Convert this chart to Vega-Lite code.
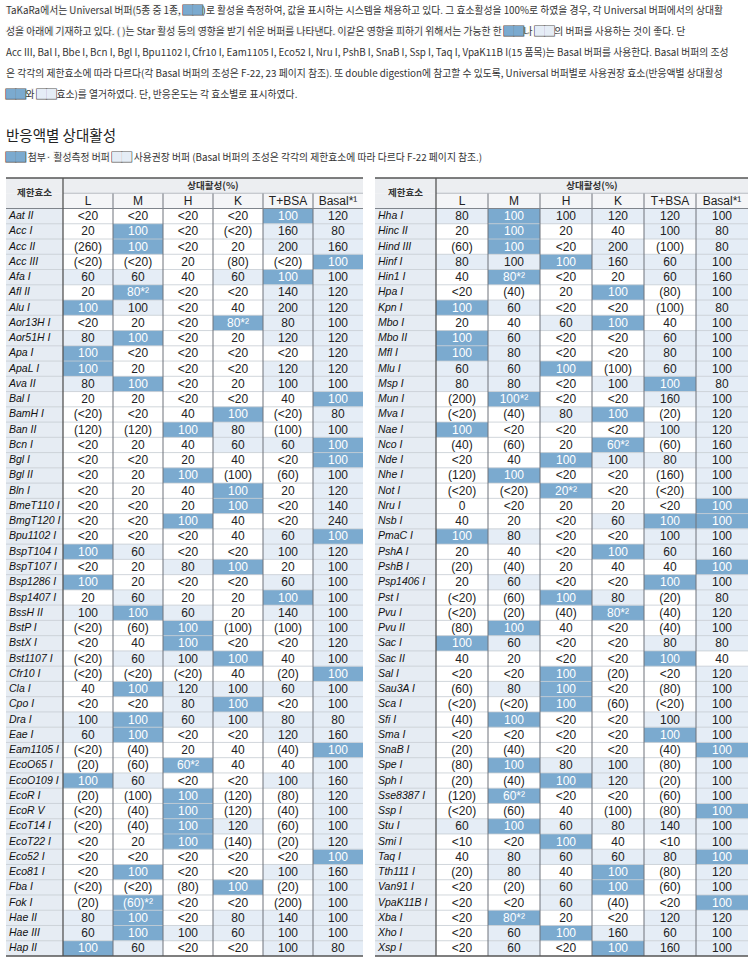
{
"$schema":"https://vega.github.io/schema/vega-lite/v6.json",
"padding":{"left":5,"top":0,"right":5,"bottom":0},
"background":"white",
"config":{"view":{"stroke":null}},
"datasets":{
"ONE":[{}],
"P":[
{"k":"p1","t":"TaKaRa에서는 Universal 버퍼(5종 중 1종, ██)로 활성을 측정하여, 값을 표시하는 시스템을 채용하고 있다. 그 효소활성을 100%로 하였을 경우, 각 Universal 버퍼에서의 상대활","bx":"TaKaRa에서는 Universal 버퍼(5종 중 1종, ██","bp":"TaKaRa에서는 Universal 버퍼(5종 중 1종, "},
{"k":"p2","t":"성을 아래에 기재하고 있다. (   )는 Star 활성 등의 영향을 받기 쉬운 버퍼를 나타낸다. 이같은 영향을 피하기 위해서는 가능한 한 ██나 ██의 버퍼를 사용하는 것이 좋다. 단","bx":"성을 아래에 기재하고 있다. (   )는 Star 활성 등의 영향을 받기 쉬운 버퍼를 나타낸다. 이같은 영향을 피하기 위해서는 가능한 한 ██","bp":"성을 아래에 기재하고 있다. (   )는 Star 활성 등의 영향을 받기 쉬운 버퍼를 나타낸다. 이같은 영향을 피하기 위해서는 가능한 한 ","lx":"성을 아래에 기재하고 있다. (   )는 Star 활성 등의 영향을 받기 쉬운 버퍼를 나타낸다. 이같은 영향을 피하기 위해서는 가능한 한 ██나 ██","lp":"성을 아래에 기재하고 있다. (   )는 Star 활성 등의 영향을 받기 쉬운 버퍼를 나타낸다. 이같은 영향을 피하기 위해서는 가능한 한 ██나 "},
{"k":"p3","t":"Acc III, Bal I, Bbe I, Bcn I, Bgl I, Bpu1102 I, Cfr10 I, Eam1105 I, Eco52 I, Nru I, PshB I, SnaB I, Ssp I, Taq I, VpaK11B I(15 품목)는 Basal 버퍼를 사용한다. Basal 버퍼의 조성"},
{"k":"p4","t":"은 각각의 제한효소에 따라 다르다(각 Basal 버퍼의 조성은 F-22, 23 페이지 참조). 또 double digestion에 참고할 수 있도록, Universal 버퍼별로 사용권장 효소(반응액별 상대활성"},
{"k":"p5","t":"██와 ██효소)를 열거하였다. 단, 반응온도는 각 효소별로 표시하였다.","bx":"██","bp":"","lx":"██와 ██","lp":"██와 "},
{"k":"head","t":"반응액별 상대활성"},
{"k":"leg","t":"██ 첨부· 활성측정 버퍼 ██ 사용권장 버퍼 (Basal 버퍼의 조성은 각각의 제한효소에 따라 다르다 F-22 페이지 참조.)","bx":"██","bp":"","lx":"██ 첨부· 활성측정 버퍼 ██","lp":"██ 첨부· 활성측정 버퍼 "}
],
"HD":[{"c":"L","lab":"L"},{"c":"M","lab":"M"},{"c":"H","lab":"H"},{"c":"K","lab":"K"},{"c":"T","lab":"T+BSA"},{"c":"B","lab":"Basal*¹"}],
"A":[
{"e":"Aat II","L":"<20","M":"<20","H":"<20","K":"<20","T":"100","B":"120","m":["T"],"r":["B"]},
{"e":"Acc I","L":"20","M":"100","H":"<20","K":"(<20)","T":"160","B":"80","m":["M"],"r":["T","B"]},
{"e":"Acc II","L":"(260)","M":"100","H":"<20","K":"20","T":"200","B":"160","m":["M"],"r":["T","B"]},
{"e":"Acc III","L":"(<20)","M":"(<20)","H":"20","K":"(80)","T":"(<20)","B":"100","m":["B"],"r":[]},
{"e":"Afa I","L":"60","M":"60","H":"40","K":"60","T":"100","B":"100","m":["T"],"r":["L","M","K","B"]},
{"e":"Afl II","L":"20","M":"80*²","H":"<20","K":"<20","T":"140","B":"120","m":["M"],"r":["T","B"]},
{"e":"Alu I","L":"100","M":"100","H":"<20","K":"40","T":"200","B":"120","m":["L"],"r":["M","T","B"]},
{"e":"Aor13H I","L":"<20","M":"20","H":"<20","K":"80*²","T":"80","B":"100","m":["K"],"r":["T","B"]},
{"e":"Aor51H I","L":"80","M":"100","H":"<20","K":"20","T":"120","B":"120","m":["M"],"r":["L","T","B"]},
{"e":"Apa I","L":"100","M":"<20","H":"<20","K":"<20","T":"<20","B":"120","m":["L"],"r":["B"]},
{"e":"ApaL I","L":"100","M":"20","H":"<20","K":"<20","T":"120","B":"120","m":["L"],"r":["T","B"]},
{"e":"Ava II","L":"80","M":"100","H":"<20","K":"20","T":"100","B":"100","m":["M"],"r":["L","T","B"]},
{"e":"Bal I","L":"20","M":"20","H":"<20","K":"<20","T":"40","B":"100","m":["B"],"r":[]},
{"e":"BamH I","L":"(<20)","M":"<20","H":"40","K":"100","T":"(<20)","B":"80","m":["K"],"r":["B"]},
{"e":"Ban II","L":"(120)","M":"(120)","H":"100","K":"80","T":"(100)","B":"100","m":["H"],"r":["K","B"]},
{"e":"Bcn I","L":"<20","M":"20","H":"40","K":"60","T":"60","B":"100","m":["B"],"r":["K","T"]},
{"e":"Bgl I","L":"<20","M":"<20","H":"20","K":"40","T":"<20","B":"100","m":["B"],"r":[]},
{"e":"Bgl II","L":"<20","M":"20","H":"100","K":"(100)","T":"(60)","B":"100","m":["H"],"r":["B"]},
{"e":"Bln I","L":"<20","M":"20","H":"40","K":"100","T":"20","B":"120","m":["K"],"r":["B"]},
{"e":"BmeT110 I","L":"<20","M":"<20","H":"20","K":"100","T":"<20","B":"140","m":["K"],"r":["B"]},
{"e":"BmgT120 I","L":"<20","M":"<20","H":"100","K":"40","T":"<20","B":"240","m":["H"],"r":["B"]},
{"e":"Bpu1102 I","L":"<20","M":"<20","H":"<20","K":"40","T":"60","B":"100","m":["B"],"r":["T"]},
{"e":"BspT104 I","L":"100","M":"60","H":"<20","K":"<20","T":"100","B":"120","m":["L"],"r":["M","T","B"]},
{"e":"BspT107 I","L":"<20","M":"20","H":"80","K":"100","T":"20","B":"100","m":["K"],"r":["H","B"]},
{"e":"Bsp1286 I","L":"100","M":"20","H":"<20","K":"<20","T":"60","B":"100","m":["L"],"r":["T","B"]},
{"e":"Bsp1407 I","L":"20","M":"60","H":"20","K":"20","T":"100","B":"100","m":["T"],"r":["M","B"]},
{"e":"BssH II","L":"100","M":"100","H":"60","K":"20","T":"140","B":"100","m":["M"],"r":["L","H","T","B"]},
{"e":"BstP I","L":"(<20)","M":"(60)","H":"100","K":"(100)","T":"(100)","B":"100","m":["H"],"r":["B"]},
{"e":"BstX I","L":"<20","M":"40","H":"100","K":"<20","T":"<20","B":"120","m":["H"],"r":["B"]},
{"e":"Bst1107 I","L":"(<20)","M":"60","H":"100","K":"100","T":"40","B":"100","m":["K"],"r":["M","H","B"]},
{"e":"Cfr10 I","L":"(<20)","M":"(<20)","H":"(<20)","K":"40","T":"(20)","B":"100","m":["B"],"r":[]},
{"e":"Cla I","L":"40","M":"100","H":"120","K":"100","T":"60","B":"100","m":["M"],"r":["H","K","T","B"]},
{"e":"Cpo I","L":"<20","M":"<20","H":"80","K":"100","T":"<20","B":"100","m":["K"],"r":["H","B"]},
{"e":"Dra I","L":"100","M":"100","H":"60","K":"100","T":"80","B":"80","m":["M"],"r":["L","H","K","T","B"]},
{"e":"Eae I","L":"60","M":"100","H":"<20","K":"<20","T":"120","B":"160","m":["M"],"r":["L","T","B"]},
{"e":"Eam1105 I","L":"(<20)","M":"(40)","H":"20","K":"40","T":"(40)","B":"100","m":["B"],"r":[]},
{"e":"EcoO65 I","L":"(20)","M":"(60)","H":"60*²","K":"40","T":"40","B":"100","m":["H"],"r":["B"]},
{"e":"EcoO109 I","L":"100","M":"60","H":"<20","K":"<20","T":"100","B":"160","m":["L"],"r":["M","T","B"]},
{"e":"EcoR I","L":"(20)","M":"(100)","H":"100","K":"(120)","T":"(80)","B":"120","m":["H"],"r":["B"]},
{"e":"EcoR V","L":"(<20)","M":"(40)","H":"100","K":"(120)","T":"(40)","B":"100","m":["H"],"r":["B"]},
{"e":"EcoT14 I","L":"(<20)","M":"(40)","H":"100","K":"120","T":"(60)","B":"100","m":["H"],"r":["K","B"]},
{"e":"EcoT22 I","L":"<20","M":"20","H":"100","K":"(140)","T":"(20)","B":"120","m":["H"],"r":["B"]},
{"e":"Eco52 I","L":"<20","M":"<20","H":"<20","K":"<20","T":"<20","B":"100","m":["B"],"r":[]},
{"e":"Eco81 I","L":"<20","M":"100","H":"<20","K":"<20","T":"100","B":"160","m":["M"],"r":["T","B"]},
{"e":"Fba I","L":"(<20)","M":"(<20)","H":"(80)","K":"100","T":"(20)","B":"100","m":["K"],"r":["B"]},
{"e":"Fok I","L":"(20)","M":"(60)*²","H":"<20","K":"<20","T":"(200)","B":"100","m":["M"],"r":["B"]},
{"e":"Hae II","L":"80","M":"100","H":"<20","K":"80","T":"140","B":"100","m":["M"],"r":["L","K","T","B"]},
{"e":"Hae III","L":"60","M":"100","H":"100","K":"60","T":"100","B":"100","m":["M"],"r":["L","H","K","T","B"]},
{"e":"Hap II","L":"100","M":"60","H":"<20","K":"<20","T":"100","B":"80","m":["L"],"r":["M","T","B"]}
],
"B":[
{"e":"Hha I","L":"80","M":"100","H":"100","K":"120","T":"120","B":"100","m":["M"],"r":["L","H","K","T","B"]},
{"e":"Hinc II","L":"20","M":"100","H":"20","K":"40","T":"100","B":"80","m":["M"],"r":["T","B"]},
{"e":"Hind III","L":"(60)","M":"100","H":"<20","K":"200","T":"(100)","B":"80","m":["M"],"r":["K","B"]},
{"e":"Hinf I","L":"80","M":"100","H":"100","K":"160","T":"60","B":"100","m":["H"],"r":["L","M","K","T","B"]},
{"e":"Hin1 I","L":"40","M":"80*²","H":"<20","K":"20","T":"60","B":"160","m":["M"],"r":["T","B"]},
{"e":"Hpa I","L":"<20","M":"(40)","H":"20","K":"100","T":"(80)","B":"100","m":["K"],"r":["B"]},
{"e":"Kpn I","L":"100","M":"60","H":"<20","K":"<20","T":"(100)","B":"80","m":["L"],"r":["M","B"]},
{"e":"Mbo I","L":"20","M":"40","H":"60","K":"100","T":"40","B":"100","m":["K"],"r":["H","B"]},
{"e":"Mbo II","L":"100","M":"60","H":"<20","K":"<20","T":"60","B":"100","m":["L"],"r":["M","T","B"]},
{"e":"Mfl I","L":"100","M":"80","H":"<20","K":"<20","T":"80","B":"100","m":["L"],"r":["M","T","B"]},
{"e":"Mlu I","L":"60","M":"60","H":"100","K":"(100)","T":"60","B":"100","m":["H"],"r":["L","M","T","B"]},
{"e":"Msp I","L":"80","M":"80","H":"<20","K":"100","T":"100","B":"80","m":["T"],"r":["L","M","K","B"]},
{"e":"Mun I","L":"(200)","M":"100*²","H":"<20","K":"<20","T":"160","B":"100","m":["M"],"r":["T","B"]},
{"e":"Mva I","L":"(<20)","M":"(40)","H":"80","K":"100","T":"(20)","B":"120","m":["K"],"r":["H","B"]},
{"e":"Nae I","L":"100","M":"<20","H":"<20","K":"<20","T":"100","B":"120","m":["L"],"r":["T","B"]},
{"e":"Nco I","L":"(40)","M":"(60)","H":"20","K":"60*²","T":"(60)","B":"160","m":["K"],"r":["B"]},
{"e":"Nde I","L":"<20","M":"40","H":"100","K":"100","T":"80","B":"100","m":["H"],"r":["K","T","B"]},
{"e":"Nhe I","L":"(120)","M":"100","H":"<20","K":"<20","T":"(160)","B":"100","m":["M"],"r":["B"]},
{"e":"Not I","L":"(<20)","M":"(<20)","H":"20*²","K":"<20","T":"(<20)","B":"100","m":["H"],"r":["B"]},
{"e":"Nru I","L":"0","M":"<20","H":"20","K":"20","T":"<20","B":"100","m":["B"],"r":[]},
{"e":"Nsb I","L":"40","M":"20","H":"<20","K":"60","T":"100","B":"100","m":["T","B"],"r":["K"]},
{"e":"PmaC I","L":"100","M":"80","H":"<20","K":"<20","T":"100","B":"100","m":["L"],"r":["M","T","B"]},
{"e":"PshA I","L":"20","M":"40","H":"<20","K":"100","T":"60","B":"160","m":["K"],"r":["T","B"]},
{"e":"PshB I","L":"(20)","M":"(40)","H":"20","K":"40","T":"40","B":"100","m":["B"],"r":[]},
{"e":"Psp1406 I","L":"20","M":"60","H":"<20","K":"<20","T":"100","B":"100","m":["T"],"r":["M","B"]},
{"e":"Pst I","L":"(<20)","M":"(60)","H":"100","K":"80","T":"(20)","B":"80","m":["H"],"r":["K","B"]},
{"e":"Pvu I","L":"(<20)","M":"(20)","H":"(40)","K":"80*²","T":"(40)","B":"120","m":["K"],"r":["B"]},
{"e":"Pvu II","L":"(80)","M":"100","H":"40","K":"<20","T":"(40)","B":"100","m":["M"],"r":["B"]},
{"e":"Sac I","L":"100","M":"60","H":"<20","K":"<20","T":"80","B":"80","m":["L"],"r":["M","T","B"]},
{"e":"Sac II","L":"40","M":"20","H":"<20","K":"<20","T":"100","B":"40","m":["T"],"r":[]},
{"e":"Sal I","L":"<20","M":"<20","H":"100","K":"(20)","T":"<20","B":"120","m":["H"],"r":["B"]},
{"e":"Sau3A I","L":"(60)","M":"80","H":"100","K":"<20","T":"(80)","B":"100","m":["H"],"r":["M","B"]},
{"e":"Sca I","L":"(<20)","M":"(<20)","H":"100","K":"(60)","T":"(<20)","B":"100","m":["H"],"r":["B"]},
{"e":"Sfi I","L":"(40)","M":"100","H":"<20","K":"<20","T":"100","B":"100","m":["M"],"r":["T","B"]},
{"e":"Sma I","L":"<20","M":"<20","H":"<20","K":"<20","T":"100","B":"100","m":["T"],"r":["B"]},
{"e":"SnaB I","L":"(20)","M":"(40)","H":"<20","K":"<20","T":"(40)","B":"100","m":["B"],"r":[]},
{"e":"Spe I","L":"(80)","M":"100","H":"80","K":"100","T":"(80)","B":"100","m":["M"],"r":["H","K","B"]},
{"e":"Sph I","L":"(20)","M":"(40)","H":"100","K":"120","T":"(20)","B":"100","m":["H"],"r":["K","B"]},
{"e":"Sse8387 I","L":"(120)","M":"60*²","H":"<20","K":"<20","T":"(60)","B":"100","m":["M"],"r":["B"]},
{"e":"Ssp I","L":"(<20)","M":"(60)","H":"40","K":"(100)","T":"(80)","B":"100","m":["B"],"r":[]},
{"e":"Stu I","L":"60","M":"100","H":"60","K":"80","T":"140","B":"100","m":["M"],"r":["L","H","K","T","B"]},
{"e":"Smi I","L":"<10","M":"<20","H":"100","K":"40","T":"<10","B":"100","m":["H"],"r":["B"]},
{"e":"Taq I","L":"40","M":"80","H":"60","K":"60","T":"80","B":"100","m":["B"],"r":["M","H","K","T"]},
{"e":"Tth111 I","L":"(20)","M":"80","H":"40","K":"100","T":"(80)","B":"120","m":["K"],"r":["M","B"]},
{"e":"Van91 I","L":"<20","M":"(20)","H":"60","K":"100","T":"(60)","B":"100","m":["K"],"r":["H","B"]},
{"e":"VpaK11B I","L":"<20","M":"<20","H":"60","K":"(40)","T":"<20","B":"100","m":["B"],"r":["H"]},
{"e":"Xba I","L":"<20","M":"80*²","H":"20","K":"<20","T":"120","B":"120","m":["M"],"r":["T","B"]},
{"e":"Xho I","L":"<20","M":"60","H":"100","K":"160","T":"60","B":"100","m":["H"],"r":["M","K","T","B"]},
{"e":"Xsp I","L":"<20","M":"60","H":"<20","K":"100","T":"160","B":"100","m":["K"],"r":["M","T","B"]}
]
},
"vconcat":[
{
"width":740,"height":168,
"data":{"name":"P"},
"encoding":{
"x":{"datum":"left","type":"nominal","scale":{"type":"point","domain":["left","right"],"padding":0},"axis":null},
"y":{"field":"k","type":"nominal","scale":{"domain":["p1","p2","p3","p4","p5","gap","head","leg"],"paddingInner":0,"paddingOuter":0},"axis":null}
},
"layer":[
{"transform":[{"filter":"datum.k !== 'head'"}],"mark":{"type":"text","align":"left","baseline":"middle","font":"Noto Sans CJK KR","fontSize":9.8,"fill":"#333333"},"encoding":{"text":{"field":"t"}}},
{"transform":[{"filter":"isString(datum.lx)"}],"mark":{"type":"text","align":"left","baseline":"middle","font":"Noto Sans CJK KR","fontSize":9.8,"fill":"#555555","stroke":"#555555","strokeWidth":1.2},"encoding":{"text":{"field":"lx"}}},
{"transform":[{"filter":"isString(datum.lx)"}],"mark":{"type":"text","align":"left","baseline":"middle","font":"Noto Sans CJK KR","fontSize":9.8,"fill":"#E5EDF6"},"encoding":{"text":{"field":"lx"}}},
{"transform":[{"filter":"isString(datum.lp)"}],"mark":{"type":"text","align":"left","baseline":"middle","font":"Noto Sans CJK KR","fontSize":9.8,"fill":"#ffffff","stroke":"#ffffff","strokeWidth":2},"encoding":{"text":{"field":"lp"}}},
{"transform":[{"filter":"isString(datum.lp)"}],"mark":{"type":"text","align":"left","baseline":"middle","font":"Noto Sans CJK KR","fontSize":9.8,"fill":"#333333"},"encoding":{"text":{"field":"lp"}}},
{"transform":[{"filter":"isString(datum.bx)"}],"mark":{"type":"text","align":"left","baseline":"middle","font":"Noto Sans CJK KR","fontSize":9.8,"fill":"#555555","stroke":"#555555","strokeWidth":1.2},"encoding":{"text":{"field":"bx"}}},
{"transform":[{"filter":"isString(datum.bx)"}],"mark":{"type":"text","align":"left","baseline":"middle","font":"Noto Sans CJK KR","fontSize":9.8,"fill":"#7BAACF"},"encoding":{"text":{"field":"bx"}}},
{"transform":[{"filter":"isString(datum.bp)"}],"mark":{"type":"text","align":"left","baseline":"middle","font":"Noto Sans CJK KR","fontSize":9.8,"fill":"#ffffff","stroke":"#ffffff","strokeWidth":2},"encoding":{"text":{"field":"bp"}}},
{"transform":[{"filter":"isString(datum.bp)"}],"mark":{"type":"text","align":"left","baseline":"middle","font":"Noto Sans CJK KR","fontSize":9.8,"fill":"#333333"},"encoding":{"text":{"field":"bp"}}},
{"transform":[{"filter":"datum.k === 'head'"}],"mark":{"type":"text","align":"left","baseline":"middle","font":"Noto Sans CJK KR","fontSize":14.5,"fill":"#222222"},"encoding":{"text":{"field":"t"}}}
]
},
{
"hconcat":[
{"hconcat":[
{"width":57,"height":778,"layer":[
{"data":{"name":"A"},"mark":{"type":"rect","color":"#E6ECF3"},"encoding":{"y":{"field":"e","type":"nominal","scale":{"domain":["h1","h2","Aat II","Acc I","Acc II","Acc III","Afa I","Afl II","Alu I","Aor13H I","Aor51H I","Apa I","ApaL I","Ava II","Bal I","BamH I","Ban II","Bcn I","Bgl I","Bgl II","Bln I","BmeT110 I","BmgT120 I","Bpu1102 I","BspT104 I","BspT107 I","Bsp1286 I","Bsp1407 I","BssH II","BstP I","BstX I","Bst1107 I","Cfr10 I","Cla I","Cpo I","Dra I","Eae I","Eam1105 I","EcoO65 I","EcoO109 I","EcoR I","EcoR V","EcoT14 I","EcoT22 I","Eco52 I","Eco81 I","Fba I","Fok I","Hae II","Hae III","Hap II"],"paddingInner":0,"paddingOuter":0},"axis":null}}},
{"data":{"name":"ONE"},"mark":{"type":"rect","color":"#ECEEF1"},"encoding":{"y":{"datum":"h1","type":"nominal","axis":null}}},
{"data":{"name":"ONE"},"mark":{"type":"rect","color":"#ECEEF1"},"encoding":{"y":{"datum":"h2","type":"nominal","axis":null}}},
{"data":{"name":"A"},"mark":{"type":"rule","color":"#C5CBD2","strokeWidth":0.8},"encoding":{"y":{"field":"e","type":"nominal","bandPosition":0,"axis":null}}},
{"data":{"name":"ONE"},"mark":{"type":"rule","color":"#7F848B","strokeWidth":1},"encoding":{"y":{"datum":"h2","type":"nominal","bandPosition":1,"axis":null}}},
{"data":{"name":"ONE"},"mark":{"type":"rule","color":"#555555","strokeWidth":1.5},"encoding":{"y":{"datum":"h1","type":"nominal","bandPosition":0,"axis":null}}},
{"data":{"name":"ONE"},"mark":{"type":"rule","color":"#555555","strokeWidth":1.5},"encoding":{"y":{"datum":"Hap II","type":"nominal","bandPosition":1,"axis":null}}},
{"data":{"name":"ONE"},"mark":{"type":"text","font":"Noto Sans CJK KR","fontSize":9.5,"fontWeight":"bold","fill":"#333333"},"encoding":{"y":{"datum":"h1","type":"nominal","bandPosition":1,"axis":null},"text":{"value":"제한효소"}}},
{"data":{"name":"A"},"mark":{"type":"text","font":"Liberation Sans","fontSize":10.5,"fontStyle":"italic","align":"left","dx":3,"fill":"#111111"},"encoding":{"x":{"datum":"left","type":"nominal","scale":{"type":"point","domain":["left","right"],"padding":0},"axis":null},"y":{"field":"e","type":"nominal","axis":null},"text":{"field":"e"}}}
]},
{"width":300,"height":778,"layer":[
{"data":{"name":"A"},"transform":[{"flatten":["m"]}],"mark":{"type":"rect","color":"#7BAACF"},"encoding":{"x":{"field":"m","type":"nominal","scale":{"domain":["L","M","H","K","T","B"],"paddingInner":0,"paddingOuter":0},"axis":null},"y":{"field":"e","type":"nominal","scale":{"domain":["h1","h2","Aat II","Acc I","Acc II","Acc III","Afa I","Afl II","Alu I","Aor13H I","Aor51H I","Apa I","ApaL I","Ava II","Bal I","BamH I","Ban II","Bcn I","Bgl I","Bgl II","Bln I","BmeT110 I","BmgT120 I","Bpu1102 I","BspT104 I","BspT107 I","Bsp1286 I","Bsp1407 I","BssH II","BstP I","BstX I","Bst1107 I","Cfr10 I","Cla I","Cpo I","Dra I","Eae I","Eam1105 I","EcoO65 I","EcoO109 I","EcoR I","EcoR V","EcoT14 I","EcoT22 I","Eco52 I","Eco81 I","Fba I","Fok I","Hae II","Hae III","Hap II"],"paddingInner":0,"paddingOuter":0},"axis":null}}},
{"data":{"name":"A"},"transform":[{"flatten":["r"]}],"mark":{"type":"rect","color":"#E5EDF6"},"encoding":{"x":{"field":"r","type":"nominal","axis":null},"y":{"field":"e","type":"nominal","axis":null}}},
{"data":{"name":"HD"},"mark":{"type":"rect","color":"#F4F5F7"},"encoding":{"x":{"field":"c","type":"nominal","axis":null},"y":{"datum":"h2","type":"nominal","axis":null}}},
{"data":{"name":"A"},"mark":{"type":"rule","color":"#C5CBD2","strokeWidth":0.8},"encoding":{"y":{"field":"e","type":"nominal","bandPosition":0,"axis":null}}},
{"data":{"name":"HD"},"transform":[{"filter":{"field":"c","oneOf":["M","H","K","T","B"]}}],"mark":{"type":"rule","color":"#6E737A","strokeWidth":1},"encoding":{"x":{"field":"c","type":"nominal","bandPosition":0,"axis":null}}},
{"data":{"name":"HD"},"mark":{"type":"rect","color":"#ECEEF1"},"encoding":{"x":{"field":"c","type":"nominal","axis":null},"y":{"datum":"h1","type":"nominal","axis":null}}},
{"data":{"name":"ONE"},"mark":{"type":"rule","color":"#A9AEB5","strokeWidth":0.8},"encoding":{"y":{"datum":"h2","type":"nominal","bandPosition":0,"axis":null}}},
{"data":{"name":"ONE"},"mark":{"type":"rule","color":"#7F848B","strokeWidth":1},"encoding":{"y":{"datum":"h2","type":"nominal","bandPosition":1,"axis":null}}},
{"data":{"name":"ONE"},"mark":{"type":"rule","color":"#555555","strokeWidth":1.3},"encoding":{"x":{"datum":"L","type":"nominal","bandPosition":0,"axis":null}}},
{"data":{"name":"ONE"},"mark":{"type":"rule","color":"#555555","strokeWidth":1.5},"encoding":{"y":{"datum":"h1","type":"nominal","bandPosition":0,"axis":null}}},
{"data":{"name":"ONE"},"mark":{"type":"rule","color":"#555555","strokeWidth":1.5},"encoding":{"y":{"datum":"Hap II","type":"nominal","bandPosition":1,"axis":null}}},
{"data":{"name":"ONE"},"mark":{"type":"text","font":"Noto Sans CJK KR","fontSize":9.5,"fontWeight":"bold","fill":"#333333"},"encoding":{"x":{"datum":"K","type":"nominal","bandPosition":0,"axis":null},"y":{"datum":"h1","type":"nominal","axis":null},"text":{"value":"상대활성(%)"}}},
{"data":{"name":"HD"},"mark":{"type":"text","font":"Liberation Sans","fontSize":12,"fill":"#222222"},"encoding":{"x":{"field":"c","type":"nominal","axis":null},"y":{"datum":"h2","type":"nominal","axis":null},"text":{"field":"lab"}}},
{"data":{"name":"A"},"transform":[{"fold":["L","M","H","K","T","B"],"as":["c","v"]}],"mark":{"type":"text","font":"Liberation Sans","fontSize":12},"encoding":{"x":{"field":"c","type":"nominal","axis":null},"y":{"field":"e","type":"nominal","axis":null},"text":{"field":"v"},"color":{"condition":{"test":"indexof(datum.m, datum.c) >= 0","value":"#ffffff"},"value":"#222222"}}}
]}
],"spacing":0,"bounds":"flush"},
{"hconcat":[
{"width":61,"height":778,"layer":[
{"data":{"name":"B"},"mark":{"type":"rect","color":"#E6ECF3"},"encoding":{"y":{"field":"e","type":"nominal","scale":{"domain":["h1","h2","Hha I","Hinc II","Hind III","Hinf I","Hin1 I","Hpa I","Kpn I","Mbo I","Mbo II","Mfl I","Mlu I","Msp I","Mun I","Mva I","Nae I","Nco I","Nde I","Nhe I","Not I","Nru I","Nsb I","PmaC I","PshA I","PshB I","Psp1406 I","Pst I","Pvu I","Pvu II","Sac I","Sac II","Sal I","Sau3A I","Sca I","Sfi I","Sma I","SnaB I","Spe I","Sph I","Sse8387 I","Ssp I","Stu I","Smi I","Taq I","Tth111 I","Van91 I","VpaK11B I","Xba I","Xho I","Xsp I"],"paddingInner":0,"paddingOuter":0},"axis":null}}},
{"data":{"name":"ONE"},"mark":{"type":"rect","color":"#ECEEF1"},"encoding":{"y":{"datum":"h1","type":"nominal","axis":null}}},
{"data":{"name":"ONE"},"mark":{"type":"rect","color":"#ECEEF1"},"encoding":{"y":{"datum":"h2","type":"nominal","axis":null}}},
{"data":{"name":"B"},"mark":{"type":"rule","color":"#C5CBD2","strokeWidth":0.8},"encoding":{"y":{"field":"e","type":"nominal","bandPosition":0,"axis":null}}},
{"data":{"name":"ONE"},"mark":{"type":"rule","color":"#7F848B","strokeWidth":1},"encoding":{"y":{"datum":"h2","type":"nominal","bandPosition":1,"axis":null}}},
{"data":{"name":"ONE"},"mark":{"type":"rule","color":"#555555","strokeWidth":1.5},"encoding":{"y":{"datum":"h1","type":"nominal","bandPosition":0,"axis":null}}},
{"data":{"name":"ONE"},"mark":{"type":"rule","color":"#555555","strokeWidth":1.5},"encoding":{"y":{"datum":"Xsp I","type":"nominal","bandPosition":1,"axis":null}}},
{"data":{"name":"ONE"},"mark":{"type":"text","font":"Noto Sans CJK KR","fontSize":9.5,"fontWeight":"bold","fill":"#333333"},"encoding":{"y":{"datum":"h1","type":"nominal","bandPosition":1,"axis":null},"text":{"value":"제한효소"}}},
{"data":{"name":"B"},"mark":{"type":"text","font":"Liberation Sans","fontSize":10.5,"fontStyle":"italic","align":"left","dx":3,"fill":"#111111"},"encoding":{"x":{"datum":"left","type":"nominal","scale":{"type":"point","domain":["left","right"],"padding":0},"axis":null},"y":{"field":"e","type":"nominal","axis":null},"text":{"field":"e"}}}
]},
{"width":312,"height":778,"layer":[
{"data":{"name":"B"},"transform":[{"flatten":["m"]}],"mark":{"type":"rect","color":"#7BAACF"},"encoding":{"x":{"field":"m","type":"nominal","scale":{"domain":["L","M","H","K","T","B"],"paddingInner":0,"paddingOuter":0},"axis":null},"y":{"field":"e","type":"nominal","scale":{"domain":["h1","h2","Hha I","Hinc II","Hind III","Hinf I","Hin1 I","Hpa I","Kpn I","Mbo I","Mbo II","Mfl I","Mlu I","Msp I","Mun I","Mva I","Nae I","Nco I","Nde I","Nhe I","Not I","Nru I","Nsb I","PmaC I","PshA I","PshB I","Psp1406 I","Pst I","Pvu I","Pvu II","Sac I","Sac II","Sal I","Sau3A I","Sca I","Sfi I","Sma I","SnaB I","Spe I","Sph I","Sse8387 I","Ssp I","Stu I","Smi I","Taq I","Tth111 I","Van91 I","VpaK11B I","Xba I","Xho I","Xsp I"],"paddingInner":0,"paddingOuter":0},"axis":null}}},
{"data":{"name":"B"},"transform":[{"flatten":["r"]}],"mark":{"type":"rect","color":"#E5EDF6"},"encoding":{"x":{"field":"r","type":"nominal","axis":null},"y":{"field":"e","type":"nominal","axis":null}}},
{"data":{"name":"HD"},"mark":{"type":"rect","color":"#F4F5F7"},"encoding":{"x":{"field":"c","type":"nominal","axis":null},"y":{"datum":"h2","type":"nominal","axis":null}}},
{"data":{"name":"B"},"mark":{"type":"rule","color":"#C5CBD2","strokeWidth":0.8},"encoding":{"y":{"field":"e","type":"nominal","bandPosition":0,"axis":null}}},
{"data":{"name":"HD"},"transform":[{"filter":{"field":"c","oneOf":["M","H","K","T","B"]}}],"mark":{"type":"rule","color":"#6E737A","strokeWidth":1},"encoding":{"x":{"field":"c","type":"nominal","bandPosition":0,"axis":null}}},
{"data":{"name":"HD"},"mark":{"type":"rect","color":"#ECEEF1"},"encoding":{"x":{"field":"c","type":"nominal","axis":null},"y":{"datum":"h1","type":"nominal","axis":null}}},
{"data":{"name":"ONE"},"mark":{"type":"rule","color":"#A9AEB5","strokeWidth":0.8},"encoding":{"y":{"datum":"h2","type":"nominal","bandPosition":0,"axis":null}}},
{"data":{"name":"ONE"},"mark":{"type":"rule","color":"#7F848B","strokeWidth":1},"encoding":{"y":{"datum":"h2","type":"nominal","bandPosition":1,"axis":null}}},
{"data":{"name":"ONE"},"mark":{"type":"rule","color":"#555555","strokeWidth":1.3},"encoding":{"x":{"datum":"L","type":"nominal","bandPosition":0,"axis":null}}},
{"data":{"name":"ONE"},"mark":{"type":"rule","color":"#555555","strokeWidth":1.5},"encoding":{"y":{"datum":"h1","type":"nominal","bandPosition":0,"axis":null}}},
{"data":{"name":"ONE"},"mark":{"type":"rule","color":"#555555","strokeWidth":1.5},"encoding":{"y":{"datum":"Xsp I","type":"nominal","bandPosition":1,"axis":null}}},
{"data":{"name":"ONE"},"mark":{"type":"text","font":"Noto Sans CJK KR","fontSize":9.5,"fontWeight":"bold","fill":"#333333"},"encoding":{"x":{"datum":"K","type":"nominal","bandPosition":0,"axis":null},"y":{"datum":"h1","type":"nominal","axis":null},"text":{"value":"상대활성(%)"}}},
{"data":{"name":"HD"},"mark":{"type":"text","font":"Liberation Sans","fontSize":12,"fill":"#222222"},"encoding":{"x":{"field":"c","type":"nominal","axis":null},"y":{"datum":"h2","type":"nominal","axis":null},"text":{"field":"lab"}}},
{"data":{"name":"B"},"transform":[{"fold":["L","M","H","K","T","B"],"as":["c","v"]}],"mark":{"type":"text","font":"Liberation Sans","fontSize":12},"encoding":{"x":{"field":"c","type":"nominal","axis":null},"y":{"field":"e","type":"nominal","axis":null},"text":{"field":"v"},"color":{"condition":{"test":"indexof(datum.m, datum.c) >= 0","value":"#ffffff"},"value":"#222222"}}}
]}
],"spacing":0,"bounds":"flush"}
],"spacing":10}
],
"spacing":9
}
